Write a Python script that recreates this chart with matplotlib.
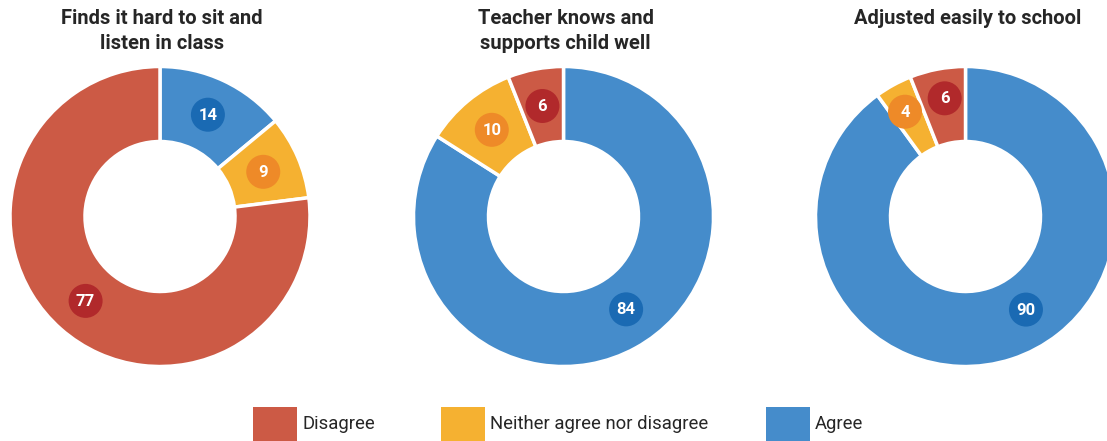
import matplotlib
matplotlib.use("Agg")
import matplotlib.pyplot as plt
from matplotlib.patches import Rectangle, Circle
import numpy as np

titles = ["Finds it hard to sit and\nlisten in class",
          "Teacher knows and\nsupports child well",
          "Adjusted easily to school"]
categories = ["Agree", "Neither agree nor disagree", "Disagree"]
agree = [14, 84, 90]
neither = [9, 10, 4]
disagree = [77, 6, 6]

colors = {"Agree": "#458CCB", "Neither agree nor disagree": "#F5B131", "Disagree": "#CC5A45"}
label_colors = {"Agree": "#1A6AB3", "Neither agree nor disagree": "#EE8A28", "Disagree": "#B1292B"}
legend_order = ["Disagree", "Neither agree nor disagree", "Agree"]

# label placement tweaks (angle in degrees clockwise from top, radius in px)
label_override = {(1, "Agree"): (146, 112),
                  (2, "Agree"): (147, 111),
                  (2, "Neither agree nor disagree"): (330, 121),
                  (2, "Disagree"): (350, 120)}

W, H = 1107, 441
fig = plt.figure(figsize=(W / 100, H / 100), dpi=100)
ax = fig.add_axes([0, 0, 1, 1])
font = "Roboto"

centers_x = [160, 563.5, 965.5]
cy = H - 216.5
R = 150
ring = 75

for i in range(3):
    vals = [agree[i], neither[i], disagree[i]]
    cols = [colors[c] for c in categories]
    ax.pie(vals, colors=cols, startangle=90, counterclock=False,
           radius=R, center=(centers_x[i], cy),
           wedgeprops=dict(width=ring, edgecolor="white", linewidth=2.5))
    total = sum(vals)
    cum = 0
    for v, c in zip(vals, categories):
        mid = (cum + v / 2) / total * 360
        cum += v
        r = R - ring / 2
        if (i, c) in label_override:
            mid, r = label_override[(i, c)]
        a = np.deg2rad(mid)
        x = centers_x[i] + r * np.sin(a)
        y = cy + r * np.cos(a)
        ax.add_patch(Circle((x, y), 17, facecolor=label_colors[c], edgecolor="none", zorder=5))
        ax.text(x, y - 0.5, str(v), ha="center", va="center", color="white",
                fontsize=12, fontweight="bold", family=font, zorder=6)
    ax.text(centers_x[i] + 2, H - 9, titles[i], ha="center", va="top",
            fontsize=14.5, fontweight="semibold", family=font, color="#262626",
            linespacing=1.42)

legend_x = [253, 441, 766]
for lx, c in zip(legend_x, legend_order):
    ax.add_patch(Rectangle((lx, 0), 44, 34, facecolor=colors[c], edgecolor="none"))
    ax.text(lx + 49, 17, c, ha="left", va="center", fontsize=13.3, family=font, color="#262626")

ax.set_xlim(0, W)
ax.set_ylim(0, H)
ax.set_aspect("equal")
ax.axis("off")
fig.savefig("out.png", dpi=100)
